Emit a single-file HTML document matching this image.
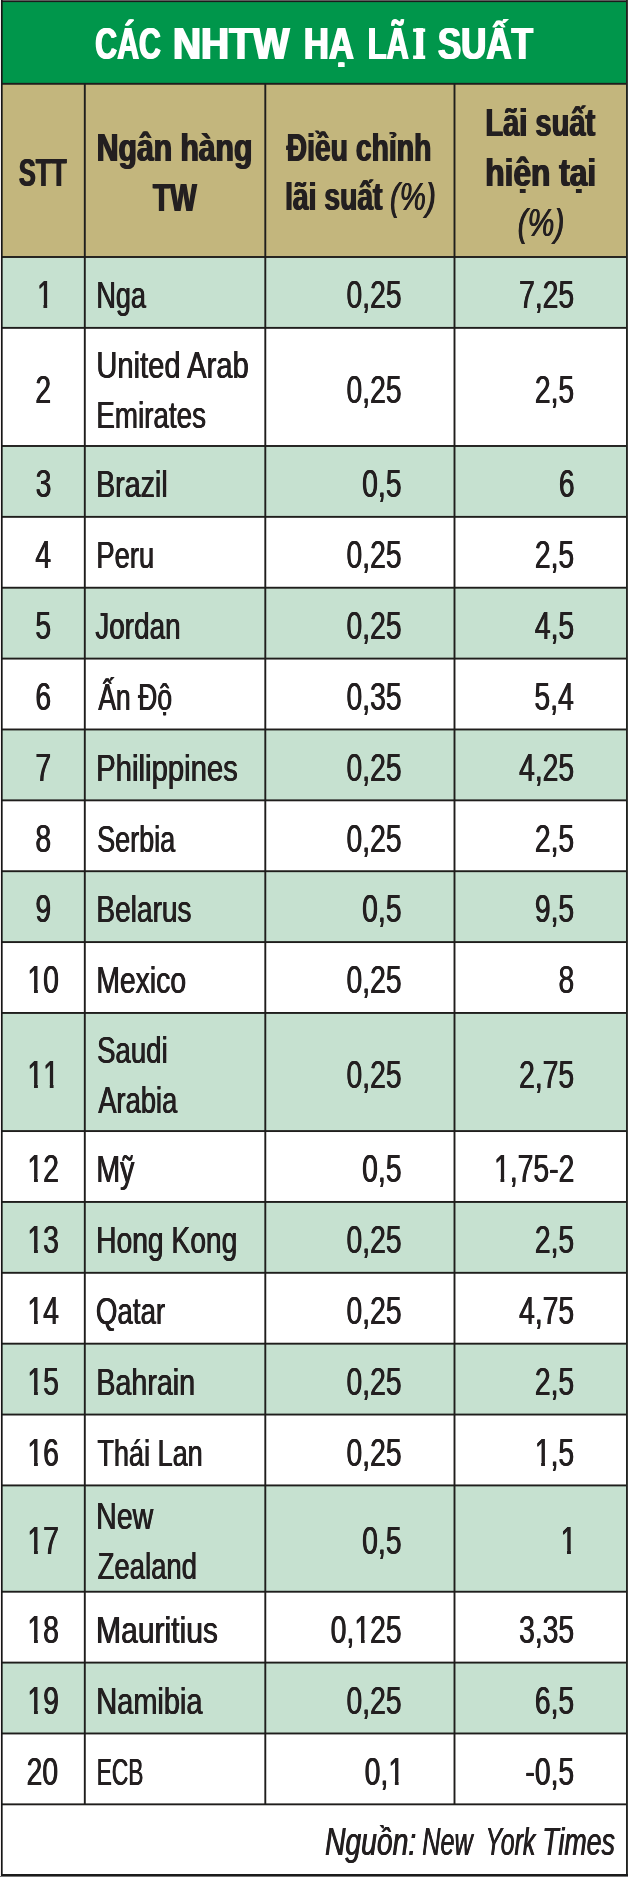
<!DOCTYPE html>
<html><head><meta charset="utf-8"><title>Các NHTW hạ lãi suất</title>
<style>
html,body{margin:0;padding:0;background:#fff}
body{width:628px;height:1877px;position:relative;overflow:hidden;font-family:"Liberation Sans",sans-serif;color:#231f20}
.b{position:absolute}
#txt{position:absolute;left:0;top:0;width:628px;height:1877px;will-change:transform}
.t{position:absolute;left:0;white-space:nowrap;line-height:1em;transform-origin:0 0;display:block}
.o{display:inline-block;clip-path:polygon(0 0,100% 0,100% 28.6px,13.45px 28.6px,13.45px 100%,9px 100%,9px 28.6px,0 28.6px)}
</style></head><body>
<svg class="b" style="left:0;top:0" width="628" height="1877" viewBox="0 0 628 1877">
<rect x="1" y="0" width="627" height="84" fill="#00964b"/>
<rect x="1" y="84" width="627" height="173" fill="#c3b67d"/>
<rect x="1" y="257.0" width="627" height="70.87" fill="#c6e1d0"/>
<rect x="1" y="445.99" width="627" height="70.87" fill="#c6e1d0"/>
<rect x="1" y="587.73" width="627" height="70.87" fill="#c6e1d0"/>
<rect x="1" y="729.47" width="627" height="70.87" fill="#c6e1d0"/>
<rect x="1" y="871.21" width="627" height="70.87" fill="#c6e1d0"/>
<rect x="1" y="1012.95" width="627" height="118.12" fill="#c6e1d0"/>
<rect x="1" y="1201.94" width="627" height="70.87" fill="#c6e1d0"/>
<rect x="1" y="1343.68" width="627" height="70.87" fill="#c6e1d0"/>
<rect x="1" y="1485.42" width="627" height="106.31" fill="#c6e1d0"/>
<rect x="1" y="1662.6" width="627" height="70.87" fill="#c6e1d0"/>
<rect x="1" y="82.85" width="627" height="1.9" fill="#1f1e1c"/>
<rect x="1" y="256.05" width="627" height="1.9" fill="#1f1e1c"/>
<rect x="1" y="326.92" width="627" height="1.9" fill="#1f1e1c"/>
<rect x="1" y="445.04" width="627" height="1.9" fill="#1f1e1c"/>
<rect x="1" y="515.91" width="627" height="1.9" fill="#1f1e1c"/>
<rect x="1" y="586.78" width="627" height="1.9" fill="#1f1e1c"/>
<rect x="1" y="657.65" width="627" height="1.9" fill="#1f1e1c"/>
<rect x="1" y="728.52" width="627" height="1.9" fill="#1f1e1c"/>
<rect x="1" y="799.39" width="627" height="1.9" fill="#1f1e1c"/>
<rect x="1" y="870.26" width="627" height="1.9" fill="#1f1e1c"/>
<rect x="1" y="941.13" width="627" height="1.9" fill="#1f1e1c"/>
<rect x="1" y="1012.0" width="627" height="1.9" fill="#1f1e1c"/>
<rect x="1" y="1130.12" width="627" height="1.9" fill="#1f1e1c"/>
<rect x="1" y="1200.99" width="627" height="1.9" fill="#1f1e1c"/>
<rect x="1" y="1271.86" width="627" height="1.9" fill="#1f1e1c"/>
<rect x="1" y="1342.73" width="627" height="1.9" fill="#1f1e1c"/>
<rect x="1" y="1413.6" width="627" height="1.9" fill="#1f1e1c"/>
<rect x="1" y="1484.47" width="627" height="1.9" fill="#1f1e1c"/>
<rect x="1" y="1590.78" width="627" height="1.9" fill="#1f1e1c"/>
<rect x="1" y="1661.65" width="627" height="1.9" fill="#1f1e1c"/>
<rect x="1" y="1732.52" width="627" height="1.9" fill="#1f1e1c"/>
<rect x="1" y="1803.39" width="627" height="1.9" fill="#1f1e1c"/>
<rect x="83.85" y="84" width="1.9" height="1720.34" fill="#1f1e1c"/>
<rect x="264.35" y="84" width="1.9" height="1720.34" fill="#1f1e1c"/>
<rect x="453.55" y="84" width="1.9" height="1720.34" fill="#1f1e1c"/>
<rect x="0" y="0" width="628" height="1" fill="#5d5d5d"/>
<rect x="1" y="1" width="627" height="1.1" fill="#1b1b1b"/>
<rect x="1" y="0" width="1.65" height="1877" fill="#161616"/>
<rect x="0" y="0" width="1" height="1877" fill="#f4eeee"/>
<rect x="626" y="0" width="1" height="1877" fill="#20221f"/>
<rect x="627" y="0" width="1" height="1877" fill="#3b3b38"/>
<rect x="1" y="1874" width="627" height="2" fill="#1b1b1b"/>
<rect x="0" y="1876" width="628" height="1" fill="#777"/>
<rect x="413.1" y="28.5" width="12.1" height="3.4" fill="#fff"/>
<rect x="413.1" y="55.5" width="12.1" height="3.5" fill="#fff"/>
</svg>
<div id="txt">
<span class="t" style="top:22px;font-size:44.3px;transform:translateX(95.36px) scaleX(0.6823);font-weight:700;color:#ffffff;text-shadow:1.1px 0 0 currentColor,-1.1px 0 0 currentColor;">CÁC</span>
<span class="t" style="top:22px;font-size:44.3px;transform:translateX(173.00px) scaleX(0.8771);font-weight:700;color:#ffffff;text-shadow:1.1px 0 0 currentColor,-1.1px 0 0 currentColor;">NHTW</span>
<span class="t" style="top:22px;font-size:44.3px;transform:translateX(303.94px) scaleX(0.7815);font-weight:700;color:#ffffff;text-shadow:1.1px 0 0 currentColor,-1.1px 0 0 currentColor;">HẠ</span>
<span class="t" style="top:22px;font-size:44.3px;transform:translateX(367.74px) scaleX(0.6949);font-weight:700;color:#ffffff;text-shadow:1.1px 0 0 currentColor,-1.1px 0 0 currentColor;">LÃ</span>
<span class="t" style="top:22px;font-size:44.3px;transform:translateX(437.87px) scaleX(0.7880);font-weight:700;color:#ffffff;text-shadow:1.1px 0 0 currentColor,-1.1px 0 0 currentColor;">SUẤT</span>
<span class="t" style="top:22px;font-size:44.3px;transform:translateX(413.09px) scaleX(1.0888);font-weight:700;color:#ffffff;">I</span>
<span class="t" style="top:154px;font-size:38.5px;transform:translateX(18.91px) scaleX(0.6557);font-weight:700;text-shadow:0.9px 0 0 currentColor,-0.9px 0 0 currentColor;">STT</span>
<span class="t" style="top:129px;font-size:38.5px;transform:translateX(96.78px) scaleX(0.7822);font-weight:700;text-shadow:0.9px 0 0 currentColor,-0.9px 0 0 currentColor;">Ngân hàng</span>
<span class="t" style="top:179px;font-size:38.5px;transform:translateX(152.81px) scaleX(0.7346);font-weight:700;text-shadow:0.9px 0 0 currentColor,-0.9px 0 0 currentColor;">TW</span>
<span class="t" style="top:129px;font-size:38.5px;transform:translateX(286.62px) scaleX(0.7354);font-weight:700;text-shadow:0.9px 0 0 currentColor,-0.9px 0 0 currentColor;">Điều chỉnh</span>
<span class="t" style="top:178px;font-size:38.5px;transform:translateX(285.08px) scaleX(0.7336);font-weight:700;text-shadow:0.9px 0 0 currentColor,-0.9px 0 0 currentColor;">lãi suất</span>
<span class="t" style="top:178px;font-size:38.5px;transform:translateX(389.89px) scaleX(0.7673);font-style:italic;text-shadow:0.5px 0 0 currentColor,-0.5px 0 0 currentColor;">(%)</span>
<span class="t" style="top:104px;font-size:38.5px;transform:translateX(485.38px) scaleX(0.7548);font-weight:700;text-shadow:0.9px 0 0 currentColor,-0.9px 0 0 currentColor;">Lãi suất</span>
<span class="t" style="top:154px;font-size:38.5px;transform:translateX(485.26px) scaleX(0.8231);font-weight:700;text-shadow:0.9px 0 0 currentColor,-0.9px 0 0 currentColor;">hiện tại</span>
<span class="t" style="top:204px;font-size:38.5px;transform:translateX(517.59px) scaleX(0.7827);font-style:italic;text-shadow:0.5px 0 0 currentColor,-0.5px 0 0 currentColor;">(%)</span>
<span class="t" style="top:277px;font-size:37px;transform:translateX(96.27px) scaleX(0.7321);text-shadow:0.5px 0 0 currentColor,-0.5px 0 0 currentColor;">Nga</span>
<span class="t" style="top:276px;font-size:38px;transform:translateX(37.05px) scaleX(0.7450);text-shadow:0.5px 0 0 currentColor,-0.5px 0 0 currentColor;"><span class="o">1</span></span>
<span class="t" style="top:276px;font-size:38px;transform:translateX(346.50px) scaleX(0.7450);text-shadow:0.5px 0 0 currentColor,-0.5px 0 0 currentColor;">0,25</span>
<span class="t" style="top:276px;font-size:38px;transform:translateX(519.04px) scaleX(0.7450);text-shadow:0.5px 0 0 currentColor,-0.5px 0 0 currentColor;">7,25</span>
<span class="t" style="top:347px;font-size:37px;transform:translateX(96.32px) scaleX(0.7884);text-shadow:0.5px 0 0 currentColor,-0.5px 0 0 currentColor;">United Arab</span>
<span class="t" style="top:397px;font-size:37px;transform:translateX(96.31px) scaleX(0.7513);text-shadow:0.5px 0 0 currentColor,-0.5px 0 0 currentColor;">Emirates</span>
<span class="t" style="top:371px;font-size:38px;transform:translateX(35.35px) scaleX(0.7450);text-shadow:0.5px 0 0 currentColor,-0.5px 0 0 currentColor;">2</span>
<span class="t" style="top:371px;font-size:38px;transform:translateX(346.50px) scaleX(0.7450);text-shadow:0.5px 0 0 currentColor,-0.5px 0 0 currentColor;">0,25</span>
<span class="t" style="top:371px;font-size:38px;transform:translateX(534.79px) scaleX(0.7450);text-shadow:0.5px 0 0 currentColor,-0.5px 0 0 currentColor;">2,5</span>
<span class="t" style="top:466px;font-size:37px;transform:translateX(96.17px) scaleX(0.7725);text-shadow:0.5px 0 0 currentColor,-0.5px 0 0 currentColor;">Brazil</span>
<span class="t" style="top:465px;font-size:38px;transform:translateX(35.63px) scaleX(0.7450);text-shadow:0.5px 0 0 currentColor,-0.5px 0 0 currentColor;">3</span>
<span class="t" style="top:465px;font-size:38px;transform:translateX(362.19px) scaleX(0.7450);text-shadow:0.5px 0 0 currentColor,-0.5px 0 0 currentColor;">0,5</span>
<span class="t" style="top:465px;font-size:38px;transform:translateX(558.84px) scaleX(0.7450);text-shadow:0.5px 0 0 currentColor,-0.5px 0 0 currentColor;">6</span>
<span class="t" style="top:537px;font-size:37px;transform:translateX(96.32px) scaleX(0.7410);text-shadow:0.5px 0 0 currentColor,-0.5px 0 0 currentColor;">Peru</span>
<span class="t" style="top:536px;font-size:38px;transform:translateX(35.35px) scaleX(0.7450);text-shadow:0.5px 0 0 currentColor,-0.5px 0 0 currentColor;">4</span>
<span class="t" style="top:536px;font-size:38px;transform:translateX(346.50px) scaleX(0.7450);text-shadow:0.5px 0 0 currentColor,-0.5px 0 0 currentColor;">0,25</span>
<span class="t" style="top:536px;font-size:38px;transform:translateX(534.79px) scaleX(0.7450);text-shadow:0.5px 0 0 currentColor,-0.5px 0 0 currentColor;">2,5</span>
<span class="t" style="top:608px;font-size:37px;transform:translateX(95.32px) scaleX(0.7530);text-shadow:0.5px 0 0 currentColor,-0.5px 0 0 currentColor;">Jordan</span>
<span class="t" style="top:607px;font-size:38px;transform:translateX(35.36px) scaleX(0.7450);text-shadow:0.5px 0 0 currentColor,-0.5px 0 0 currentColor;">5</span>
<span class="t" style="top:607px;font-size:38px;transform:translateX(346.50px) scaleX(0.7450);text-shadow:0.5px 0 0 currentColor,-0.5px 0 0 currentColor;">0,25</span>
<span class="t" style="top:607px;font-size:38px;transform:translateX(534.79px) scaleX(0.7450);text-shadow:0.5px 0 0 currentColor,-0.5px 0 0 currentColor;">4,5</span>
<span class="t" style="top:679px;font-size:37px;transform:translateX(98.27px) scaleX(0.7175);text-shadow:0.5px 0 0 currentColor,-0.5px 0 0 currentColor;">Ấn Độ</span>
<span class="t" style="top:678px;font-size:38px;transform:translateX(35.41px) scaleX(0.7450);text-shadow:0.5px 0 0 currentColor,-0.5px 0 0 currentColor;">6</span>
<span class="t" style="top:678px;font-size:38px;transform:translateX(346.50px) scaleX(0.7450);text-shadow:0.5px 0 0 currentColor,-0.5px 0 0 currentColor;">0,35</span>
<span class="t" style="top:678px;font-size:38px;transform:translateX(534.41px) scaleX(0.7450);text-shadow:0.5px 0 0 currentColor,-0.5px 0 0 currentColor;">5,4</span>
<span class="t" style="top:750px;font-size:37px;transform:translateX(96.15px) scaleX(0.7920);text-shadow:0.5px 0 0 currentColor,-0.5px 0 0 currentColor;">Philippines</span>
<span class="t" style="top:749px;font-size:38px;transform:translateX(35.48px) scaleX(0.7450);text-shadow:0.5px 0 0 currentColor,-0.5px 0 0 currentColor;">7</span>
<span class="t" style="top:749px;font-size:38px;transform:translateX(346.50px) scaleX(0.7450);text-shadow:0.5px 0 0 currentColor,-0.5px 0 0 currentColor;">0,25</span>
<span class="t" style="top:749px;font-size:38px;transform:translateX(519.04px) scaleX(0.7450);text-shadow:0.5px 0 0 currentColor,-0.5px 0 0 currentColor;">4,25</span>
<span class="t" style="top:821px;font-size:37px;transform:translateX(97.02px) scaleX(0.7315);text-shadow:0.5px 0 0 currentColor,-0.5px 0 0 currentColor;">Serbia</span>
<span class="t" style="top:820px;font-size:38px;transform:translateX(35.48px) scaleX(0.7450);text-shadow:0.5px 0 0 currentColor,-0.5px 0 0 currentColor;">8</span>
<span class="t" style="top:820px;font-size:38px;transform:translateX(346.50px) scaleX(0.7450);text-shadow:0.5px 0 0 currentColor,-0.5px 0 0 currentColor;">0,25</span>
<span class="t" style="top:820px;font-size:38px;transform:translateX(534.79px) scaleX(0.7450);text-shadow:0.5px 0 0 currentColor,-0.5px 0 0 currentColor;">2,5</span>
<span class="t" style="top:891px;font-size:37px;transform:translateX(96.27px) scaleX(0.7594);text-shadow:0.5px 0 0 currentColor,-0.5px 0 0 currentColor;">Belarus</span>
<span class="t" style="top:890px;font-size:38px;transform:translateX(35.45px) scaleX(0.7450);text-shadow:0.5px 0 0 currentColor,-0.5px 0 0 currentColor;">9</span>
<span class="t" style="top:890px;font-size:38px;transform:translateX(362.19px) scaleX(0.7450);text-shadow:0.5px 0 0 currentColor,-0.5px 0 0 currentColor;">0,5</span>
<span class="t" style="top:890px;font-size:38px;transform:translateX(534.79px) scaleX(0.7450);text-shadow:0.5px 0 0 currentColor,-0.5px 0 0 currentColor;">9,5</span>
<span class="t" style="top:962px;font-size:37px;transform:translateX(96.28px) scaleX(0.7662);text-shadow:0.5px 0 0 currentColor,-0.5px 0 0 currentColor;">Mexico</span>
<span class="t" style="top:961px;font-size:38px;transform:translateX(27.47px) scaleX(0.7450);text-shadow:0.5px 0 0 currentColor,-0.5px 0 0 currentColor;"><span class="o">1</span>0</span>
<span class="t" style="top:961px;font-size:38px;transform:translateX(346.50px) scaleX(0.7450);text-shadow:0.5px 0 0 currentColor,-0.5px 0 0 currentColor;">0,25</span>
<span class="t" style="top:961px;font-size:38px;transform:translateX(558.50px) scaleX(0.7450);text-shadow:0.5px 0 0 currentColor,-0.5px 0 0 currentColor;">8</span>
<span class="t" style="top:1032px;font-size:37px;transform:translateX(97.01px) scaleX(0.7469);text-shadow:0.5px 0 0 currentColor,-0.5px 0 0 currentColor;">Saudi</span>
<span class="t" style="top:1082px;font-size:37px;transform:translateX(98.27px) scaleX(0.7380);text-shadow:0.5px 0 0 currentColor,-0.5px 0 0 currentColor;">Arabia</span>
<span class="t" style="top:1056px;font-size:38px;transform:translateX(27.47px) scaleX(0.7450);text-shadow:0.5px 0 0 currentColor,-0.5px 0 0 currentColor;"><span class="o">1</span><span class="o">1</span></span>
<span class="t" style="top:1056px;font-size:38px;transform:translateX(346.50px) scaleX(0.7450);text-shadow:0.5px 0 0 currentColor,-0.5px 0 0 currentColor;">0,25</span>
<span class="t" style="top:1056px;font-size:38px;transform:translateX(519.04px) scaleX(0.7450);text-shadow:0.5px 0 0 currentColor,-0.5px 0 0 currentColor;">2,75</span>
<span class="t" style="top:1151px;font-size:37px;transform:translateX(96.28px) scaleX(0.7730);text-shadow:0.5px 0 0 currentColor,-0.5px 0 0 currentColor;">Mỹ</span>
<span class="t" style="top:1150px;font-size:38px;transform:translateX(27.47px) scaleX(0.7450);text-shadow:0.5px 0 0 currentColor,-0.5px 0 0 currentColor;"><span class="o">1</span>2</span>
<span class="t" style="top:1150px;font-size:38px;transform:translateX(362.19px) scaleX(0.7450);text-shadow:0.5px 0 0 currentColor,-0.5px 0 0 currentColor;">0,5</span>
<span class="t" style="top:1150px;font-size:38px;transform:translateX(494.09px) scaleX(0.7450);text-shadow:0.5px 0 0 currentColor,-0.5px 0 0 currentColor;"><span class="o">1</span>,75-2</span>
<span class="t" style="top:1222px;font-size:37px;transform:translateX(96.21px) scaleX(0.7621);text-shadow:0.5px 0 0 currentColor,-0.5px 0 0 currentColor;">Hong Kong</span>
<span class="t" style="top:1221px;font-size:38px;transform:translateX(27.47px) scaleX(0.7450);text-shadow:0.5px 0 0 currentColor,-0.5px 0 0 currentColor;"><span class="o">1</span>3</span>
<span class="t" style="top:1221px;font-size:38px;transform:translateX(346.50px) scaleX(0.7450);text-shadow:0.5px 0 0 currentColor,-0.5px 0 0 currentColor;">0,25</span>
<span class="t" style="top:1221px;font-size:38px;transform:translateX(534.79px) scaleX(0.7450);text-shadow:0.5px 0 0 currentColor,-0.5px 0 0 currentColor;">2,5</span>
<span class="t" style="top:1293px;font-size:37px;transform:translateX(95.99px) scaleX(0.7471);text-shadow:0.5px 0 0 currentColor,-0.5px 0 0 currentColor;">Qatar</span>
<span class="t" style="top:1292px;font-size:38px;transform:translateX(27.47px) scaleX(0.7450);text-shadow:0.5px 0 0 currentColor,-0.5px 0 0 currentColor;"><span class="o">1</span>4</span>
<span class="t" style="top:1292px;font-size:38px;transform:translateX(346.50px) scaleX(0.7450);text-shadow:0.5px 0 0 currentColor,-0.5px 0 0 currentColor;">0,25</span>
<span class="t" style="top:1292px;font-size:38px;transform:translateX(519.04px) scaleX(0.7450);text-shadow:0.5px 0 0 currentColor,-0.5px 0 0 currentColor;">4,75</span>
<span class="t" style="top:1364px;font-size:37px;transform:translateX(96.27px) scaleX(0.7747);text-shadow:0.5px 0 0 currentColor,-0.5px 0 0 currentColor;">Bahrain</span>
<span class="t" style="top:1363px;font-size:38px;transform:translateX(27.47px) scaleX(0.7450);text-shadow:0.5px 0 0 currentColor,-0.5px 0 0 currentColor;"><span class="o">1</span>5</span>
<span class="t" style="top:1363px;font-size:38px;transform:translateX(346.50px) scaleX(0.7450);text-shadow:0.5px 0 0 currentColor,-0.5px 0 0 currentColor;">0,25</span>
<span class="t" style="top:1363px;font-size:38px;transform:translateX(534.79px) scaleX(0.7450);text-shadow:0.5px 0 0 currentColor,-0.5px 0 0 currentColor;">2,5</span>
<span class="t" style="top:1435px;font-size:37px;transform:translateX(97.38px) scaleX(0.7319);text-shadow:0.5px 0 0 currentColor,-0.5px 0 0 currentColor;">Thái Lan</span>
<span class="t" style="top:1434px;font-size:38px;transform:translateX(27.47px) scaleX(0.7450);text-shadow:0.5px 0 0 currentColor,-0.5px 0 0 currentColor;"><span class="o">1</span>6</span>
<span class="t" style="top:1434px;font-size:38px;transform:translateX(346.50px) scaleX(0.7450);text-shadow:0.5px 0 0 currentColor,-0.5px 0 0 currentColor;">0,25</span>
<span class="t" style="top:1434px;font-size:38px;transform:translateX(534.79px) scaleX(0.7450);text-shadow:0.5px 0 0 currentColor,-0.5px 0 0 currentColor;"><span class="o">1</span>,5</span>
<span class="t" style="top:1498px;font-size:37px;transform:translateX(96.24px) scaleX(0.7696);text-shadow:0.5px 0 0 currentColor,-0.5px 0 0 currentColor;">New</span>
<span class="t" style="top:1548px;font-size:37px;transform:translateX(97.65px) scaleX(0.7431);text-shadow:0.5px 0 0 currentColor,-0.5px 0 0 currentColor;">Zealand</span>
<span class="t" style="top:1522px;font-size:38px;transform:translateX(27.47px) scaleX(0.7450);text-shadow:0.5px 0 0 currentColor,-0.5px 0 0 currentColor;"><span class="o">1</span>7</span>
<span class="t" style="top:1522px;font-size:38px;transform:translateX(362.19px) scaleX(0.7450);text-shadow:0.5px 0 0 currentColor,-0.5px 0 0 currentColor;">0,5</span>
<span class="t" style="top:1522px;font-size:38px;transform:translateX(560.53px) scaleX(0.7450);text-shadow:0.5px 0 0 currentColor,-0.5px 0 0 currentColor;"><span class="o">1</span></span>
<span class="t" style="top:1612px;font-size:37px;transform:translateX(96.03px) scaleX(0.8126);text-shadow:0.5px 0 0 currentColor,-0.5px 0 0 currentColor;">Mauritius</span>
<span class="t" style="top:1611px;font-size:38px;transform:translateX(27.47px) scaleX(0.7450);text-shadow:0.5px 0 0 currentColor,-0.5px 0 0 currentColor;"><span class="o">1</span>8</span>
<span class="t" style="top:1611px;font-size:38px;transform:translateX(330.70px) scaleX(0.7450);text-shadow:0.5px 0 0 currentColor,-0.5px 0 0 currentColor;">0,<span class="o">1</span>25</span>
<span class="t" style="top:1611px;font-size:38px;transform:translateX(519.04px) scaleX(0.7450);text-shadow:0.5px 0 0 currentColor,-0.5px 0 0 currentColor;">3,35</span>
<span class="t" style="top:1683px;font-size:37px;transform:translateX(96.24px) scaleX(0.7829);text-shadow:0.5px 0 0 currentColor,-0.5px 0 0 currentColor;">Namibia</span>
<span class="t" style="top:1682px;font-size:38px;transform:translateX(27.47px) scaleX(0.7450);text-shadow:0.5px 0 0 currentColor,-0.5px 0 0 currentColor;"><span class="o">1</span>9</span>
<span class="t" style="top:1682px;font-size:38px;transform:translateX(346.50px) scaleX(0.7450);text-shadow:0.5px 0 0 currentColor,-0.5px 0 0 currentColor;">0,25</span>
<span class="t" style="top:1682px;font-size:38px;transform:translateX(534.79px) scaleX(0.7450);text-shadow:0.5px 0 0 currentColor,-0.5px 0 0 currentColor;">6,5</span>
<span class="t" style="top:1754px;font-size:37px;transform:translateX(96.70px) scaleX(0.6146);text-shadow:0.5px 0 0 currentColor,-0.5px 0 0 currentColor;">ECB</span>
<span class="t" style="top:1753px;font-size:38px;transform:translateX(26.57px) scaleX(0.7450);text-shadow:0.5px 0 0 currentColor,-0.5px 0 0 currentColor;">20</span>
<span class="t" style="top:1753px;font-size:38px;transform:translateX(364.64px) scaleX(0.7450);text-shadow:0.5px 0 0 currentColor,-0.5px 0 0 currentColor;">0,<span class="o">1</span></span>
<span class="t" style="top:1753px;font-size:38px;transform:translateX(525.36px) scaleX(0.7450);text-shadow:0.5px 0 0 currentColor,-0.5px 0 0 currentColor;">-0,5</span>
<span class="t" style="top:1823px;font-size:38px;transform:translateX(325.03px) scaleX(0.7443);font-style:italic;text-shadow:0.5px 0 0 currentColor,-0.5px 0 0 currentColor;">Nguồn:</span>
<span class="t" style="top:1823px;font-size:38px;transform:translateX(422.29px) scaleX(0.6632);font-style:italic;text-shadow:0.5px 0 0 currentColor,-0.5px 0 0 currentColor;">New</span>
<span class="t" style="top:1823px;font-size:38px;transform:translateX(485.50px) scaleX(0.6554);font-style:italic;text-shadow:0.5px 0 0 currentColor,-0.5px 0 0 currentColor;">York</span>
<span class="t" style="top:1823px;font-size:38px;transform:translateX(542.34px) scaleX(0.7037);font-style:italic;text-shadow:0.5px 0 0 currentColor,-0.5px 0 0 currentColor;">Times</span>
</div>
</body></html>
